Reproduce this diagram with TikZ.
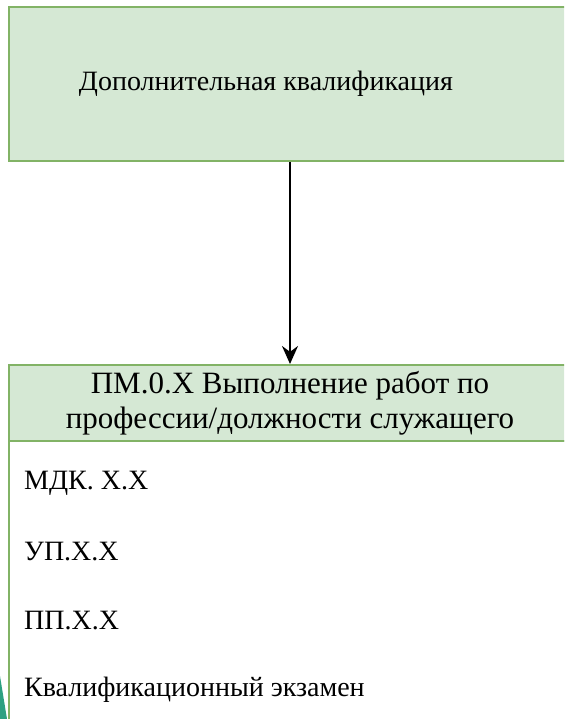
\documentclass[tikz,border=0pt]{standalone}
\usepackage{fontspec}
\setmainfont{Liberation Serif}
\usetikzlibrary{arrows.meta}
\definecolor{cus-mint}{RGB}{213,232,212}
\definecolor{cus-leaf}{RGB}{130,179,102}
\definecolor{cus-teal}{RGB}{45,160,130}

\begin{document}
\begin{tikzpicture}[x=1pt, y=-1pt, font=\fontsize{28}{35}\selectfont]
\tikzset{
	greenbox/.style={draw=cus-leaf, fill=cus-mint, line width=2pt, align=center, inner sep=0pt},
	itemtext/.style={anchor=west, inner sep=0pt}
}
\useasboundingbox (0,0) rectangle (564,719);
\clip (0,0) rectangle (564,719);
\fill[cus-teal] (0,676) -- (7,719) -- (0,719) -- cycle;
\node[greenbox, minimum width=563pt, minimum height=154pt] (qual) at (290,84) {};
\node (qualtext) at (266,84) {Дополнительная квалификация};
\draw[cus-leaf, line width=2pt, fill=white] (8.5,441) rectangle (571.5,740);
\node[greenbox, minimum width=563pt, minimum height=76pt, font=\fontsize{31}{35}\selectfont] (pm) at (290,403) {ПМ.0.X Выполнение работ по\\профессии/должности служащего};
\foreach \txt [count=\i] in {МДК. X.X, УП.X.X, ПП.X.X, Квалификационный экзамен}{
	\node[itemtext] (item\i) at (24,{414+69*\i}) {\txt};
}
\draw[-{Stealth[length=18pt,width=16pt]}, line width=2pt] (qual) -- (pm);
\end{tikzpicture}
\end{document}
